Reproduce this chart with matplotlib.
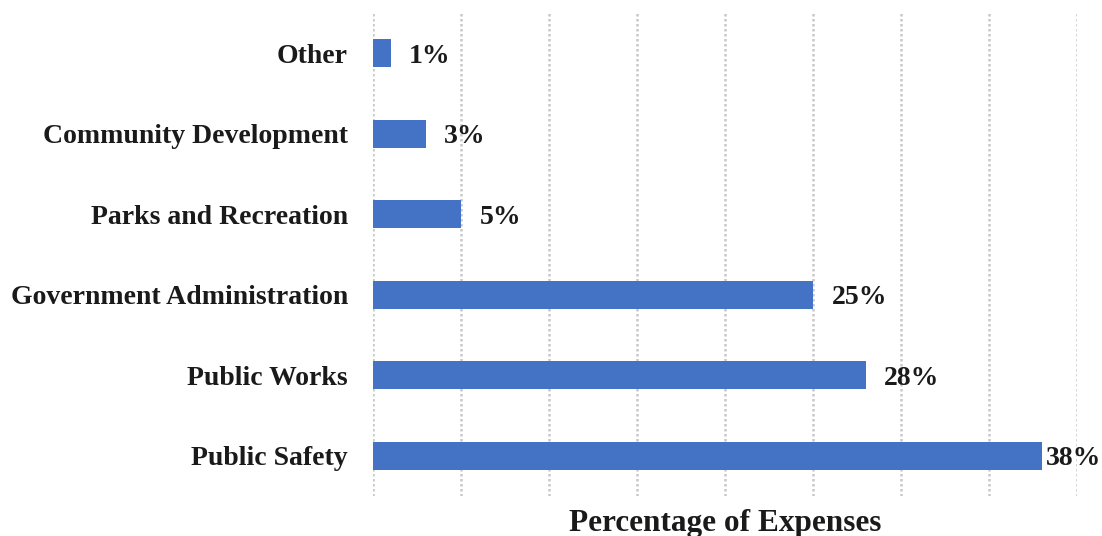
import matplotlib.pyplot as plt

categories = ["Public Safety", "Public Works", "Government Administration",
              "Parks and Recreation", "Community Development", "Other"]
values = [38, 28, 25, 5, 3, 1]
labels = ["38%", "28%", "25%", "5%", "3%", "1%"]

plt.rcParams['font.family'] = ['Liberation Serif', 'DejaVu Serif']

fig = plt.figure(figsize=(11.02, 5.36), dpi=100)
ax = fig.add_axes([0.3385, 0.0746, 0.6388, 0.9011])

ypos = range(len(categories))
ax.barh(ypos, values, height=0.35, color='#4472C4', zorder=3)

for y, v, lab in zip(ypos, values, labels):
    x = min(v + 1.05, 38.25)
    ax.text(x, y, lab, ha='left', va='center_baseline', fontsize=20,
            fontweight='bold', color='#1a1a1a', zorder=4)

ax.set_xlim(0, 40)
ax.set_ylim(-0.5, 5.5)
ax.set_xticks(range(0, 41, 5))
ax.set_xticklabels([])
ax.tick_params(axis='x', length=0)
ax.set_yticks(list(ypos))
ax.set_yticklabels(categories, fontsize=20, fontweight='bold', color='#1a1a1a')
ax.tick_params(axis='y', length=0, pad=18)
ax.grid(axis='x', color='#c8c8c8', linestyle=(0, (1, 1)), linewidth=1.8, zorder=0)
for s in ax.spines.values():
    s.set_visible(False)

ax.set_xlabel("Percentage of Expenses", fontsize=22.5, fontweight='bold',
              color='#1a1a1a', labelpad=6)

fig.savefig("out.png", dpi=100)
